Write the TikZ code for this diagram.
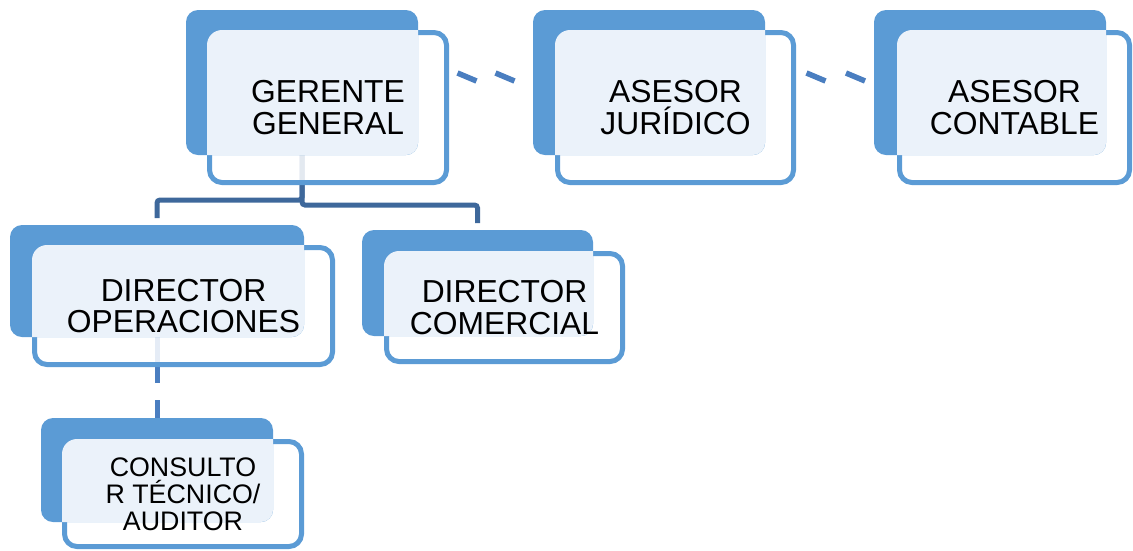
\documentclass[tikz,border=0pt]{standalone}
\usepackage{fontspec}
\setmainfont{Liberation Sans}
\usetikzlibrary{decorations.markings,calc}
\definecolor{backblue}{HTML}{5B9BD5}
\definecolor{lightblue}{HTML}{EBF2FA}
\definecolor{treeblue}{HTML}{3E689B}
\definecolor{dashblue}{HTML}{4A7EC0}
\pgfdeclarelayer{conn}
\pgfsetlayers{conn,main}
\tikzset{
  backbox/.style={rectangle, rounded corners=12pt, fill=backblue, inner sep=0pt, outer sep=0pt},
  frontbox/.style={rectangle, rounded corners=12.5pt, draw=backblue, line width=5pt, fill=white, fill opacity=0.86, inner sep=0pt},
  txt/.style={align=center, inner sep=0pt, text=black, font=\fontsize{31.8}{31.5}\selectfont},
  smalltxt/.style={align=center, inner sep=0pt, text=black, font=\fontsize{26.8}{27}\selectfont},
  treeline/.style={draw=treeblue, line width=5pt, rounded corners=3pt},
  dashline/.style={draw=dashblue, line width=5pt, dash pattern=on 46pt off 17pt},
  tiltdash/.style={draw=dashblue, line width=5.5pt, line cap=butt},
}
\newcommand\overlaylight[2]{%
  \begin{scope}
    \clip[rounded corners=15pt] (#2.south west) rectangle (#2.north east);
    \fill[lightblue, rounded corners=12pt] (#1.south west) rectangle (#1.north east);
  \end{scope}}
\begin{document}
\begin{tikzpicture}[x=1pt,y=-1pt]
\useasboundingbox (0,0) rectangle (1133,550);

% GERENTE GENERAL
\node[frontbox, minimum width=237pt, minimum height=150pt] (gg-f) at (328,107.5) {};
\node[backbox, minimum width=232pt, minimum height=145pt] (gg-b) at (302,82.5) {};
\overlaylight{gg-b}{gg-f}
\node[txt] (gg-t) at (gg-f) {GERENTE\\GENERAL};

% ASESOR JURIDICO
\node[frontbox, minimum width=236pt, minimum height=150pt] (aj-f) at (675.5,107.5) {};
\node[backbox, minimum width=232pt, minimum height=145pt] (aj-b) at (649,82.5) {};
\overlaylight{aj-b}{aj-f}
\node[txt] (aj-t) at (aj-f) {ASESOR\\JURÍDICO};

% ASESOR CONTABLE
\node[frontbox, minimum width=230pt, minimum height=150pt] (ac-f) at (1014.5,107.5) {};
\node[backbox, minimum width=232pt, minimum height=145pt] (ac-b) at (990,82.5) {};
\overlaylight{ac-b}{ac-f}
\node[txt] (ac-t) at (ac-f) {ASESOR\\CONTABLE};

% DIRECTOR OPERACIONES
\node[frontbox, minimum width=298pt, minimum height=117pt] (do-f) at (183.5,306) {};
\node[backbox, minimum width=294pt, minimum height=112pt] (do-b) at (157,281) {};
\overlaylight{do-b}{do-f}
\node[txt] (do-t) at (do-f) {DIRECTOR\\OPERACIONES};

% DIRECTOR COMERCIAL
\node[frontbox, minimum width=236pt, minimum height=108pt] (dc-f) at (504.5,307.5) {};
\node[backbox, minimum width=231pt, minimum height=106pt] (dc-b) at (477.5,283) {};
\overlaylight{dc-b}{dc-f}
\node[txt] (dc-t) at (dc-f) {DIRECTOR\\COMERCIAL};

% CONSULTOR
\node[frontbox, minimum width=237pt, minimum height=105pt] (ct-f) at (183,494) {};
\node[backbox, minimum width=232pt, minimum height=104pt] (ct-b) at (157,470) {};
\overlaylight{ct-b}{ct-f}
\node[smalltxt] (ct-t) at (ct-f) {CONSULTO\\R TÉCNICO/\\AUDITOR};

% connectors
\begin{pgfonlayer}{conn}
  \draw[treeline] (gg-b.south) -- (302,200) -| ([yshift=7pt]do-b.north);
  \draw[treeline] (gg-b.south) -- (302,205) -| ([yshift=7pt]dc-b.north);
  \draw[dashline] (do-b.south) -- (ct-b.north);
  \path[decorate, decoration={markings,
      mark=at position 18pt with {\draw[tiltdash] (-9.5pt,4pt) -- (9.5pt,-4pt);},
      mark=at position 56pt with {\draw[tiltdash] (-9.5pt,4pt) -- (9.5pt,-4pt);}}]
    ([yshift=30.5pt]gg-f.east) -- ([yshift=5.5pt]aj-b.west);
  \path[decorate, decoration={markings,
      mark=at position 20pt with {\draw[tiltdash] (-9.5pt,4pt) -- (9.5pt,-4pt);},
      mark=at position 59.5pt with {\draw[tiltdash] (-9.5pt,4pt) -- (9.5pt,-4pt);}}]
    ([yshift=30.5pt]aj-f.east) -- ([yshift=5.5pt]ac-b.west);
\end{pgfonlayer}
\end{tikzpicture}
\end{document}
